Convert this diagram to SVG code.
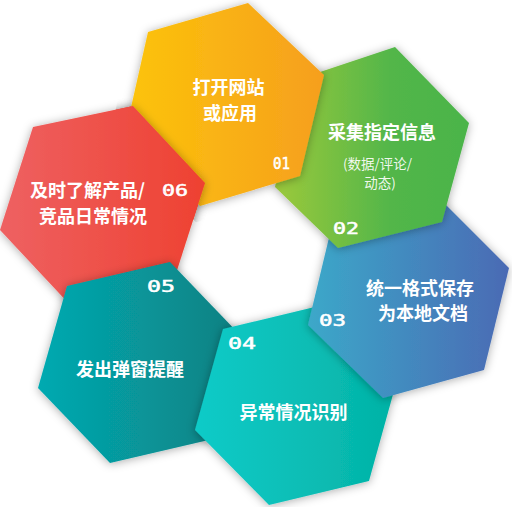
<svg xmlns="http://www.w3.org/2000/svg" xmlns:xlink="http://www.w3.org/1999/xlink" width="512" height="507" viewBox="0 0 512 507">
<style>
.lbl{font-family:'Noto Sans CJK SC','Noto Sans',sans-serif;font-weight:700;font-size:18px;fill:#fff;text-anchor:middle}
.sub{font-family:'Noto Sans CJK SC','Noto Sans',sans-serif;font-weight:400;font-size:13.5px;fill:#fff;fill-opacity:0.92;text-anchor:middle}
.num{font-family:'DejaVu Sans Mono','Liberation Mono',monospace;font-size:15px;font-weight:400;fill:#fff;stroke:#fff;stroke-width:0.5}
.hex{filter:url(#sh)}
</style>
<defs>
<filter id="sh" x="-20%" y="-20%" width="140%" height="140%">
<feDropShadow dx="0" dy="1" stdDeviation="5" flood-color="#000" flood-opacity="0.33"/>
</filter>
<linearGradient id="gO" x1="0" y1="0" x2="1" y2="0"><stop offset="0" stop-color="#FCC40A"/><stop offset="1" stop-color="#F69F1E"/></linearGradient>
<linearGradient id="gG" x1="0" y1="0" x2="1" y2="0"><stop offset="0" stop-color="#9CC93B"/><stop offset="0.6" stop-color="#52B649"/><stop offset="1" stop-color="#4BB44A"/></linearGradient>
<linearGradient id="gB" x1="0" y1="0" x2="1" y2="0"><stop offset="0" stop-color="#3CA8C9"/><stop offset="1" stop-color="#4A6AB4"/></linearGradient>
<linearGradient id="gT" x1="0" y1="0" x2="1" y2="0"><stop offset="0" stop-color="#11CBC8"/><stop offset="1" stop-color="#03B2A5"/></linearGradient>
<linearGradient id="gD" x1="0" y1="0" x2="1" y2="0"><stop offset="0" stop-color="#04AAB1"/><stop offset="1" stop-color="#0A8081"/></linearGradient>
<linearGradient id="gR" x1="0" y1="0" x2="1" y2="0"><stop offset="0" stop-color="#EE6162"/><stop offset="1" stop-color="#EE4131"/></linearGradient>
<clipPath id="clipO"><polygon transform="translate(224.5,104.5) scale(1.16) translate(-224.5,-104.5)" points="148,32 248,3 324,75 300,176 200,206 125,134"/></clipPath>
</defs>

<g id="n06">
<polygon class="hex" fill="url(#gR)" points="33,127 133,106 205,183 172,286 72,307 0,230"/>
<text class="lbl" x="30" y="196.5" style="text-anchor:start">及时了解产品/</text>
<text class="lbl" x="93" y="222.5">竞品日常情况</text>
<text class="num" x="162" y="195.5" textLength="26" lengthAdjust="spacingAndGlyphs">06</text>
</g>

<g id="n05">
<polygon class="hex" fill="url(#gD)" points="67,286 170,262 242,337 213,439 110,463 38,388"/>
<text class="lbl" x="130" y="375.5">发出弹窗提醒</text>
<text class="num" x="147" y="291.5" textLength="28" lengthAdjust="spacingAndGlyphs">05</text>
</g>

<g id="n04">
<polygon class="hex" fill="url(#gT)" points="223,329 323,305 397,380 369,481 269,505 195,430"/>
<text class="lbl" x="293.5" y="418.5">异常情况识别</text>
<text class="num" x="228" y="348.5" textLength="28" lengthAdjust="spacingAndGlyphs">04</text>
</g>

<g id="n03">
<polygon class="hex" fill="url(#gB)" points="333,221 434,193 509,268 484,370 383,398 308,325"/>
<text class="lbl" x="420" y="295">统一格式保存</text>
<text class="lbl" x="423" y="319.5">为本地文档</text>
<text class="num" x="319" y="325.5" textLength="27" lengthAdjust="spacingAndGlyphs">03</text>
</g>

<g id="n02">
<polygon class="hex" fill="url(#gG)" points="296,80 395,47 469,123 442,222 338,248 275,187"/>
<text class="lbl" x="382" y="138.5">采集指定信息</text>
<text class="sub" x="377.5" y="168.5">(数据/评论/</text>
<text class="sub" x="380" y="187.5">动态)</text>
<text class="num" x="333" y="233.5" textLength="26" lengthAdjust="spacingAndGlyphs">02</text>
</g>

<g id="n01">
<polygon class="hex" fill="url(#gO)" points="148,32 248,3 324,75 300,176 200,206 125,134"/>
<text class="lbl" x="228.5" y="94">打开网站</text>
<text class="lbl" x="230" y="119.5">或应用</text>
<text class="num" x="273" y="168.5" textLength="17" lengthAdjust="spacingAndGlyphs">01</text>
</g>

<use id="n06-over" xlink:href="#n06" clip-path="url(#clipO)"/>
</svg>
